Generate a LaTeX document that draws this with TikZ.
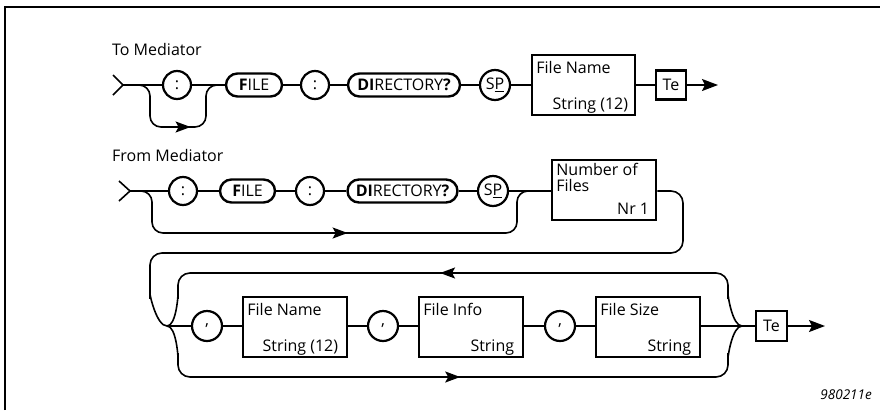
\documentclass[tikz,border=0pt]{standalone}
\usepackage{fontspec}
\setmainfont{Open Sans}
\usetikzlibrary{arrows.meta,decorations.markings,calc}
\begin{document}
\begin{tikzpicture}[x=1pt,y=-1pt,
  conn/.style={line width=1.6pt},
  circ/.style={draw,circle,line width=2.2pt,minimum size=28pt,inner sep=0pt},
  pill/.style={draw,rounded corners=11.5pt,line width=2.4pt,minimum height=23pt,inner sep=0pt},
  fbox/.style={draw,line width=2.6pt,minimum width=104pt,minimum height=60pt,inner sep=0pt},
  tebox/.style={draw,line width=2.4pt,minimum width=30pt,minimum height=29pt,inner sep=0pt},
  tl/.style={anchor=base west,inner sep=0pt},
  br/.style={anchor=base east,inner sep=0pt},
  tip/.style={-{Stealth[length=16pt,width=12pt,inset=3pt]}},
  midarrow/.style={postaction={decorate},decoration={markings,mark=at position #1 with {\arrow{Stealth[length=15pt,width=11pt,inset=3pt]}}}},
  font=\fontsize{16}{18}\selectfont
]
\useasboundingbox (0,0) rectangle (880,410);
\coordinate (fa) at (5,410);
\coordinate (fb) at (5,7);
\coordinate (fc) at (880,7);
\draw[line width=2.5pt] (fa) -- (fb) -- (fc);

% ---- Row 1
\node[tl] (lab1) at (112,55) {To Mediator};
\coordinate (e1) at (123,85);
\coordinate (e1a) at (113,75);
\coordinate (e1b) at (113,95);
\draw[conn] (e1a) -- (e1) -- (e1b);
\node[circ] (c1) at (177,85) {:};
\node[pill,minimum width=56pt] (file1) at (254,85) {\textbf{F}ILE};
\node[circ] (c2) at (315,85) {:};
\node[pill,minimum width=112pt] (dir1) at (404,85) {\textbf{DI}RECTORY\textbf{?}};
\node[circ,minimum size=30pt] (sp1) at (495,85) {S\underline{P}};
\node[fbox,minimum width=103pt] (fn1) at (583.5,85) {};
\node[tl] (fn1t) at ($(fn1.north west)+(5.5,19.5)$) {File Name};
\node[br] (fn1b) at ($(fn1.south east)+(-8,-6.5)$) {String (12)};
\node[tebox] (te1) at (671,85) {Te};
\coordinate (a1) at (718,85);
\draw[conn] (e1) -- (c1) -- (file1) -- (c2) -- (dir1) -- (sp1) -- (fn1) -- (te1);
\draw[conn,tip] (te1) -- (a1);
\draw[conn,rounded corners=11pt,midarrow=0.6] (e1) -| (150,127) -| (206,85) -- (file1.west);

% ---- Row 2
\node[tl] (lab2) at (112,161) {From Mediator};
\coordinate (e2) at (130,191);
\coordinate (e2a) at (119,181);
\coordinate (e2b) at (119,201);
\draw[conn] (e2a) -- (e2) -- (e2b);
\node[circ] (c3) at (183,191) {:};
\node[pill,minimum width=55pt] (file2) at (247.5,191) {\textbf{F}ILE};
\node[circ] (c4) at (310,191) {:};
\node[pill,minimum width=110pt] (dir2) at (402.5,191) {\textbf{DI}RECTORY\textbf{?}};
\node[circ,minimum size=30pt] (sp2) at (493,191) {S\underline{P}};
\node[fbox] (nf) at (604,190) {};
\node[tl] (nft1) at ($(nf.north west)+(5.5,16.5)$) {Number of};
\node[tl] (nft2) at ($(nf.north west)+(5.5,32.5)$) {Files};
\node[br] (nfb) at ($(nf.south east)+(-8,-6.5)$) {Nr 1};
\draw[conn] (e2) -- (c3) -- (file2) -- (c4) -- (dir2) -- (sp2) -- (sp2 -| nf.west);
\draw[conn,rounded corners=11pt,midarrow=0.515] (e2) -| (152,233) -| (517,191) -- (sp2 -| nf.west);

% ---- Row 3
\coordinate (j1) at (167,326);
\coordinate (j2) at (742,326);
\draw[conn,rounded corners=12pt] (nf.east |- sp2) -| (683,253) -| (150,306) to[out=90,in=180] (j1);
\node[circ,minimum size=30pt] (c5) at (207,326) {,};
\node[fbox] (b1) at (295,327) {};
\node[tl] (b1t) at ($(b1.north west)+(5.5,19.5)$) {File Name};
\node[br] (b1b) at ($(b1.south east)+(-10,-6.5)$) {String (12)};
\node[circ,minimum size=30pt] (c6) at (383,326) {,};
\node[fbox] (b2) at (471,327) {};
\node[tl] (b2t) at ($(b2.north west)+(5.5,19.5)$) {File Info};
\node[br] (b2b) at ($(b2.south east)+(-10,-6.5)$) {String};
\node[circ,minimum size=30pt] (c7) at (560,326) {,};
\node[fbox] (b3) at (648,327) {};
\node[tl] (b3t) at ($(b3.north west)+(5.5,19.5)$) {File Size};
\node[br] (b3b) at ($(b3.south east)+(-10,-6.5)$) {String};
\node[tebox,minimum width=31pt,minimum height=30pt] (te2) at (771.5,326) {Te};
\coordinate (a2) at (825,326);
\draw[conn] (j1) -- (c5) -- (c5 -| b1.west);
\draw[conn] (c5 -| b1.east) -- (c6) -- (c6 -| b2.west);
\draw[conn] (c6 -| b2.east) -- (c7) -- (c7 -| b3.west);
\draw[conn] (c7 -| b3.east) -- (j2) -- (te2);
\draw[conn,tip] (te2) -- (a2);
\draw[conn,rounded corners=12pt,midarrow=0.52] (j2) to[out=180,in=90] (728,306) |- (178,273) -- (178,306) to[out=90,in=0] (j1);
\draw[conn,rounded corners=12pt,midarrow=0.51] (j1) to[out=0,in=-90] (178,346) |- (728,377) -- (728,346) to[out=-90,in=180] (j2);

\node[anchor=base east,inner sep=0pt,font=\fontsize{13.5}{15}\selectfont\itshape] (fig) at (872,399) {980211e};
\end{tikzpicture}
\end{document}
